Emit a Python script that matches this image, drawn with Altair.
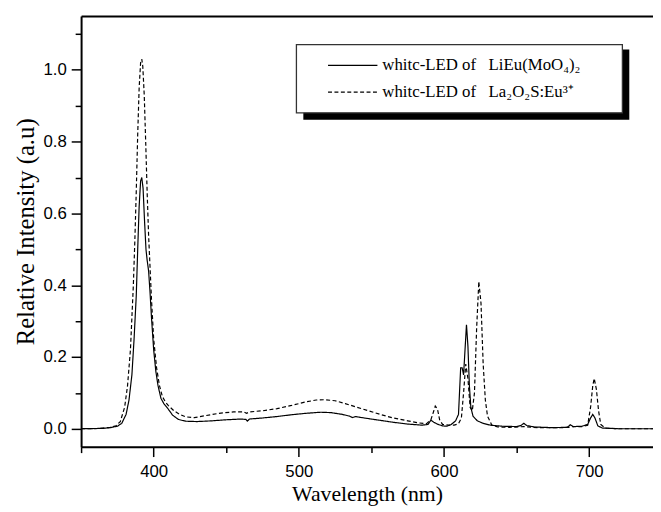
import altair as alt
import pandas as pd

# ---- data ----
series_names = ["LiEu(MoO4)2", "La2O2S:Eu3+"]
legend_labels = ["whitc-LED of\u00a0\u00a0 LiEu(MoO\u2084)\u2082", "whitc-LED of\u00a0\u00a0 La\u2082O\u2082S:Eu\u00b3\u207a"]

solid_nm = [350, 365, 370, 375, 378, 381, 383, 385, 386.5, 388, 389, 390, 391, 391.8, 392.7, 393.7,
            394.7, 395.5, 396.5, 397.5, 398.5, 400, 401.5, 403, 405, 407, 410, 413, 417, 422, 430,
            440, 450, 460, 463.5, 464.5, 466, 475, 485, 495, 505, 515, 522, 530, 535, 537, 539, 545,
            555, 565, 575, 585, 589, 591, 593, 596, 599, 602, 605, 608, 610, 611.5, 612.5, 613.5,
            614.5, 615.5, 616.5, 617.5, 618.5, 620, 623, 627, 632, 640, 650, 653, 655, 657, 662,
            675, 685, 687, 689, 695, 699, 701, 702.5, 704, 706, 709, 720, 750]
solid_val = [0.0, 0.001, 0.003, 0.007, 0.015, 0.04, 0.08, 0.15, 0.25, 0.37, 0.50, 0.62, 0.69, 0.70,
             0.67, 0.58, 0.50, 0.47, 0.44, 0.38, 0.31, 0.22, 0.16, 0.12, 0.085, 0.07, 0.055, 0.038,
             0.026, 0.021, 0.020, 0.022, 0.025, 0.027, 0.026, 0.021, 0.027, 0.030, 0.034, 0.039,
             0.043, 0.046, 0.045, 0.040, 0.035, 0.031, 0.034, 0.030, 0.024, 0.018, 0.013, 0.010,
             0.012, 0.024, 0.018, 0.012, 0.008, 0.007, 0.012, 0.022, 0.04, 0.17, 0.17, 0.15, 0.22,
             0.29, 0.23, 0.12, 0.06, 0.035, 0.022, 0.015, 0.010, 0.007, 0.006, 0.009, 0.015, 0.009,
             0.005, 0.003, 0.004, 0.011, 0.006, 0.007, 0.012, 0.03, 0.04, 0.03, 0.008, 0.002, 0.0, 0.0]

dashed_nm = [350, 360, 365, 370, 374, 377, 380, 382, 384, 386, 387, 388, 389, 390, 391, 391.8, 392.5,
             393.5, 394.5, 395.5, 396.5, 397.5, 398.5, 400, 402, 404, 406, 408, 410, 414, 418, 422,
             428, 435, 445, 455, 462, 464, 466, 475, 485, 495, 505, 512, 518, 525, 532, 540, 548,
             556, 565, 575, 583, 588, 591, 593, 594, 595.5, 597, 599, 603, 607, 610, 612, 613.5, 615,
             616.5, 618, 619.5, 621, 622.5, 624, 625.5, 627, 628.5, 630, 633, 637, 645, 655, 665, 680,
             686, 689, 695, 699, 701, 702.5, 703.5, 705, 706.5, 708, 711, 720, 750]
dashed_val = [0.0, 0.0, 0.002, 0.004, 0.008, 0.02, 0.06, 0.12, 0.22, 0.40, 0.52, 0.66, 0.82, 0.95,
              1.02, 1.03, 1.01, 0.93, 0.80, 0.66, 0.54, 0.45, 0.36, 0.25, 0.17, 0.12, 0.09, 0.075,
              0.065, 0.05, 0.04, 0.033, 0.031, 0.036, 0.043, 0.047, 0.047, 0.043, 0.047, 0.050, 0.056,
              0.065, 0.075, 0.080, 0.081, 0.078, 0.070, 0.060, 0.050, 0.040, 0.030, 0.022, 0.016,
              0.014, 0.025, 0.050, 0.063, 0.055, 0.025, 0.012, 0.010, 0.010, 0.014, 0.03, 0.10, 0.18,
              0.14, 0.06, 0.05, 0.10, 0.28, 0.41, 0.35, 0.18, 0.08, 0.035, 0.01, 0.005, 0.004, 0.006,
              0.003, 0.003, 0.004, 0.006, 0.006, 0.01, 0.06, 0.12, 0.14, 0.11, 0.05, 0.012, 0.002,
              0.0, 0.0]

x_ticks = [350, 400, 450, 500, 550, 600, 650, 700, 750]
y_ticks = [0.0, 0.1, 0.2, 0.3, 0.4, 0.5, 0.6, 0.7, 0.8, 0.9, 1.0, 1.1]

df = pd.concat([
    pd.DataFrame({"nm": solid_nm, "val": solid_val, "series": series_names[0]}),
    pd.DataFrame({"nm": dashed_nm, "val": dashed_val, "series": series_names[1]}),
])

SANS = "Liberation Sans"
SERIF = "Liberation Serif"

x_scale = alt.Scale(domain=[350, 744], nice=False, zero=False)
y_scale = alt.Scale(domain=[-0.05, 1.15], nice=False, zero=False)

major_y = "abs(datum.value*5 - round(datum.value*5)) < 0.001"
major_x = "datum.value % 100 == 0"

x_axis = alt.Axis(values=x_ticks, title="Wavelength (nm)", grid=False,
                  labelExpr=f"{major_x} ? format(datum.value, 'd') : ''",
                  tickSize={"condition": {"test": major_x, "value": 10}, "value": 6},
                  tickColor="black", tickWidth=1.5, domainColor="black", domainWidth=2,
                  labelFont=SANS, labelFontSize=17, labelColor="black", labelPadding=7,
                  titleFont=SERIF, titleFontSize=22, titleFontWeight="normal",
                  titleColor="black", titlePadding=4)
y_axis = alt.Axis(values=y_ticks, title="Relative Intensity (a.u)", grid=False,
                  labelExpr=f"{major_y} ? format(datum.value, '.1f') : ''",
                  tickSize={"condition": {"test": major_y, "value": 10}, "value": 6},
                  tickColor="black", tickWidth=1.5, domainColor="black", domainWidth=2,
                  labelFont=SANS, labelFontSize=17, labelColor="black", labelPadding=5,
                  titleFont=SERIF, titleFontSize=25, titleFontWeight="normal",
                  titleColor="black", titlePadding=5)

lines = alt.Chart(df).mark_line(color="black", strokeWidth=1.2, clip=True).encode(
    x=alt.X("nm:Q", scale=x_scale, axis=x_axis),
    y=alt.Y("val:Q", scale=y_scale, axis=y_axis),
    strokeDash=alt.StrokeDash("series:N", scale=alt.Scale(domain=series_names, range=[[1, 0], [4, 2.5]]),
                              legend=None),
)

top_axis = alt.Chart(df).mark_point(opacity=0).encode(
    x=alt.X("nm:Q", scale=x_scale,
            axis=alt.Axis(orient="top", labels=False, ticks=False, title=None, grid=False,
                          domainColor="black", domainWidth=2)),
    y=alt.Y("val:Q", scale=y_scale, axis=None),
)

leg_df = pd.DataFrame({"series": series_names, "label": legend_labels})

shadow = alt.Chart(leg_df.head(1)).mark_rect(color="black").encode(
    x=alt.value(225), x2=alt.value(555), y=alt.value(34), y2=alt.value(105))
box = alt.Chart(leg_df.head(1)).mark_rect(fill="white", stroke="#333333", strokeWidth=1.3).encode(
    x=alt.value(218), x2=alt.value(548), y=alt.value(29), y2=alt.value(98))
sample1 = alt.Chart(leg_df.head(1)).mark_rule(color="black", strokeWidth=1.2).encode(
    x=alt.value(250), x2=alt.value(300), y=alt.value(50))
sample2 = alt.Chart(leg_df.tail(1)).mark_rule(color="black", strokeWidth=1.2, strokeDash=[4, 2.5]).encode(
    x=alt.value(250), x2=alt.value(300), y=alt.value(77))
text1 = alt.Chart(leg_df.head(1)).mark_text(align="left", baseline="middle", font=SERIF, fontSize=17,
                                            color="black").encode(
    x=alt.value(305), y=alt.value(50), text="label:N")
text2 = alt.Chart(leg_df.tail(1)).mark_text(align="left", baseline="middle", font=SERIF, fontSize=17,
                                            color="black").encode(
    x=alt.value(305), y=alt.value(77), text="label:N")

chart = alt.layer(lines, top_axis, shadow, box, sample1, sample2, text1, text2).resolve_axis(
    x="independent", y="independent"
).properties(
    width=579, height=436,
    autosize=alt.AutoSizeParams(type="none"),
    padding={"left": 74, "top": 5, "right": 0, "bottom": 63},
).configure_view(stroke=None).configure_axis(
    titleFont=SERIF, labelFont=SANS
).configure(background="white")

chart.save("out.html", embed_options={"renderer": "svg", "actions": False})
